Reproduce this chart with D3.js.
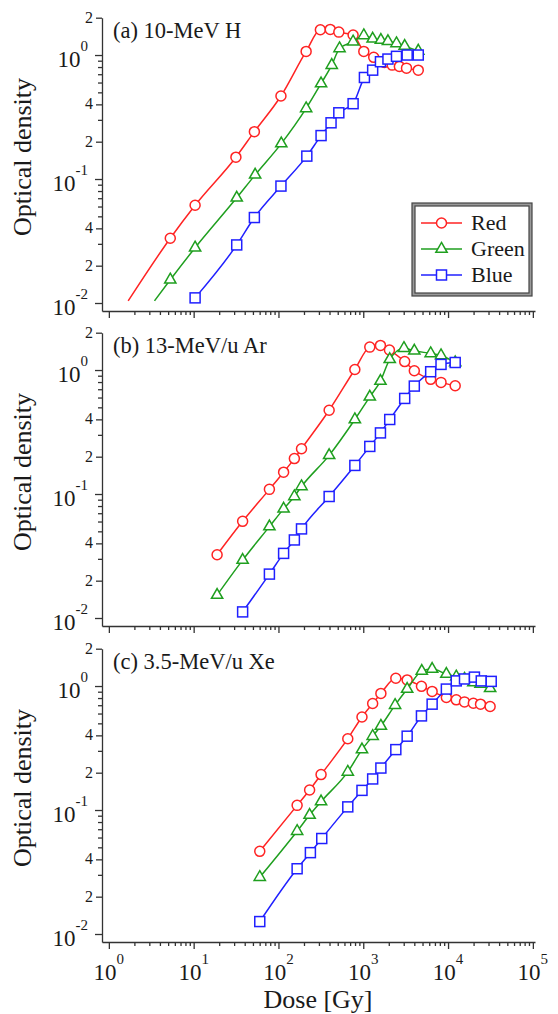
<!DOCTYPE html>
<html>
<head>
<meta charset="utf-8">
<script src="https://cdn.jsdelivr.net/npm/d3@7"></script>
<style>
  body { margin: 0; background: #fff; }
  text { font-family: "Liberation Serif", "Times New Roman", serif; fill: #1a1a1a; }
</style>
</head>
<body>
<div id="chart"></div>
<script>
// ---- data (dose in Gy, optical density) ----
// (a) 10-MeV H
var doseA_R = [5.3, 10.4, 31.5, 52, 107, 212, 312, 408, 515, 759, 1015, 1328, 1775, 2194, 2666, 3236, 4453];
var odA_R   = [0.0333, 0.0615, 0.150, 0.241, 0.467, 1.07, 1.60, 1.61, 1.53, 1.45, 1.07, 0.958, 0.872, 0.829, 0.809, 0.784, 0.755];
var doseA_G = [5.3, 10.4, 32.2, 53.1, 108, 212, 318, 425, 525, 759, 1015, 1291, 1614, 1955, 2465, 3080, 4453];
var odA_G   = [0.0154, 0.0279, 0.0705, 0.108, 0.193, 0.371, 0.589, 0.829, 1.13, 1.28, 1.44, 1.35, 1.32, 1.29, 1.24, 1.18, 1.08];
var doseA_B = [10.4, 32.2, 52, 107, 216, 318, 417, 515, 759, 1032, 1291, 1595, 1955, 2465, 3294, 4453];
var odA_B   = [0.0110, 0.0294, 0.0489, 0.0877, 0.153, 0.224, 0.284, 0.342, 0.405, 0.659, 0.755, 0.883, 0.928, 0.976, 1.0, 1.0];
// line continues below the first marker for red and green in (a)
var lineStartA_R = [1.69, 0.0104];
var lineStartA_G = [3.45, 0.0104];

// (b) 13-MeV/u Ar
var doseB_R = [18.9, 37.8, 78.2, 115, 154, 187, 396, 796, 1194, 1595, 2036, 3080, 4000, 6237, 8260, 12140];
var odB_R   = [0.0324, 0.0602, 0.109, 0.150, 0.193, 0.232, 0.474, 1.01, 1.53, 1.58, 1.45, 1.17, 0.987, 0.841, 0.795, 0.746];
var doseB_G = [18.9, 37.8, 78.2, 115, 154, 187, 396, 796, 1194, 1595, 2052, 3020, 4000, 6237, 8260, 12140];
var odB_G   = [0.0153, 0.0293, 0.0546, 0.0759, 0.0955, 0.115, 0.205, 0.399, 0.608, 0.815, 1.22, 1.50, 1.43, 1.36, 1.31, 1.15];
var doseB_B = [37.8, 78.2, 115, 154, 187, 396, 796, 1194, 1595, 2052, 3080, 4000, 6237, 8260, 12140];
var odB_B   = [0.0112, 0.0226, 0.0332, 0.0426, 0.0523, 0.0955, 0.170, 0.242, 0.311, 0.399, 0.590, 0.742, 0.969, 1.11, 1.15];

// (c) 3.5-MeV/u Xe
var doseC_R = [60.2, 166, 233, 318, 657, 966, 1291, 1614, 2421, 3294, 4856, 6490, 9550, 12500, 15630, 19870, 24150, 31340];
var odC_R   = [0.0464, 0.109, 0.145, 0.193, 0.376, 0.563, 0.723, 0.872, 1.155, 1.12, 0.994, 0.905, 0.809, 0.774, 0.745, 0.727, 0.714, 0.684];
var doseC_G = [60.2, 166, 233, 318, 657, 966, 1291, 1614, 2373, 3294, 4898, 6490, 9550, 12500, 15630, 19870, 24150, 31340];
var odC_G   = [0.0287, 0.0675, 0.0911, 0.117, 0.203, 0.307, 0.394, 0.476, 0.701, 0.945, 1.32, 1.37, 1.25, 1.19, 1.14, 1.07, 1.04, 0.958];
var doseC_B = [60.2, 166, 238, 324, 657, 966, 1291, 1614, 2421, 3294, 4856, 6490, 9550, 12500, 15630, 20460, 24640, 32280];
var odC_B   = [0.0126, 0.0336, 0.0453, 0.0589, 0.106, 0.144, 0.178, 0.218, 0.307, 0.394, 0.574, 0.714, 0.945, 1.10, 1.14, 1.18, 1.10, 1.09];

var panelTitles = ["(a) 10-MeV H", "(b) 13-MeV/u Ar", "(c) 3.5-MeV/u Xe"];
var seriesNames = ["Red", "Green", "Blue"];
var seriesColors = ["#ff2323", "#1f9f1f", "#2020ff"];
var xMajor = [1, 10, 100, 1000, 10000, 100000];
var xExp = ["0", "1", "2", "3", "4", "5"];
var yMajor = [0.01, 0.1, 1];
var yExp = ["-2", "-1", "0"];
var yMid = [0.02, 0.04, 0.2, 0.4, 2];
var yMidLabels = ["2", "4", "2", "4", "2"];

var panels = [
  {title: panelTitles[0], top: 55, series: [[doseA_R, odA_R, lineStartA_R], [doseA_G, odA_G, lineStartA_G], [doseA_B, odA_B, null]]},
  {title: panelTitles[1], top: 370, series: [[doseB_R, odB_R, null], [doseB_G, odB_G, null], [doseB_B, odB_B, null]]},
  {title: panelTitles[2], top: 686, series: [[doseC_R, odC_R, null], [doseC_G, odC_G, null], [doseC_B, odC_B, null]]}
];

var svgWidth = 558, svgHeight = 1014;
var svg = d3.select("#chart").append("svg")
  .attr("width", svgWidth)
  .attr("height", svgHeight);

var xScale = d3.scaleLog().domain([0.83, 1.06e5]).range([102, 535]);

// minor x ticks 2..9 in each decade
var xMinor = [];
for (var e = 0; e < 5; e++) {
  for (var m = 2; m <= 9; m++) xMinor.push(m * Math.pow(10, e));
}
var yMinor = [0.03, 0.05, 0.06, 0.07, 0.08, 0.09, 0.3, 0.5, 0.6, 0.7, 0.8, 0.9];

function drawMarker(g, shape, color, px, py) {
  if (shape === 0) {
    g.append("circle").attr("cx", px).attr("cy", py).attr("r", 5)
      .attr("fill", "#fff").attr("stroke", color).attr("stroke-width", 1.5);
  } else if (shape === 1) {
    g.append("path").attr("d", d3.symbol().type(d3.symbolTriangle).size(55)())
      .attr("transform", "translate(" + px + "," + py + ")")
      .attr("fill", "#fff").attr("stroke", color).attr("stroke-width", 1.5);
  } else {
    g.append("rect").attr("x", px - 5).attr("y", py - 5).attr("width", 10).attr("height", 10)
      .attr("fill", "#fff").attr("stroke", color).attr("stroke-width", 1.5);
  }
}

panels.forEach(function(p, pi) {
  var y0 = p.top;
  var yScale = d3.scaleLog().domain([0.00862, 2]).range([y0 + 256, y0 - 37.3]);
  var g = svg.append("g");
  var xAxisY = y0 + 256;

  // x axis: major + minor ticks
  g.append("g").attr("transform", "translate(0," + xAxisY + ")")
    .call(d3.axisBottom(xScale).tickValues(xMajor).tickSize(7).tickSizeOuter(0).tickFormat(""));
  g.append("g").attr("transform", "translate(0," + xAxisY + ")")
    .call(d3.axisBottom(xScale).tickValues(xMinor).tickSize(4).tickSizeOuter(0).tickFormat(""))
    .select(".domain").remove();

  // y axis
  g.append("g").attr("transform", "translate(102,0)")
    .call(d3.axisLeft(yScale).tickValues(yMajor).tickSize(7).tickSizeOuter(0).tickFormat(""));
  g.append("g").attr("transform", "translate(102,0)")
    .call(d3.axisLeft(yScale).tickValues(yMid).tickSize(6).tickSizeOuter(0).tickFormat(""))
    .select(".domain").remove();
  g.append("g").attr("transform", "translate(102,0)")
    .call(d3.axisLeft(yScale).tickValues(yMinor).tickSize(4).tickSizeOuter(0).tickFormat(""))
    .select(".domain").remove();

  g.selectAll(".domain, .tick line").attr("stroke", "#333").attr("stroke-width", 1.3);

  // y tick labels
  yMajor.forEach(function(v, i) {
    var t = g.append("text").attr("x", 88).attr("y", yScale(v) + 12).attr("text-anchor", "end");
    t.append("tspan").attr("font-size", 23).text("10");
    t.append("tspan").attr("font-size", 15).attr("dy", -16).text(yExp[i]);
  });
  yMid.forEach(function(v, i) {
    g.append("text").attr("x", 93).attr("y", yScale(v) + 5).attr("text-anchor", "end")
      .attr("font-size", 16).text(yMidLabels[i]);
  });

  // y title
  g.append("text")
    .attr("transform", "translate(31," + (y0 + 102) + ") rotate(-90)")
    .attr("text-anchor", "middle")
    .attr("font-size", 26)
    .text("Optical density");

  // panel title
  g.append("text").attr("x", 113).attr("y", y0 - 17).attr("font-size", 22.5).text(p.title);

  // x labels only on the bottom panel
  if (pi === 2) {
    xMajor.forEach(function(v, i) {
      var t = g.append("text").attr("x", xScale(v)).attr("y", xAxisY + 38).attr("text-anchor", "middle");
      t.append("tspan").attr("font-size", 23).text("10");
      t.append("tspan").attr("font-size", 15).attr("dy", -16).text(xExp[i]);
    });
    g.append("text").attr("x", 318).attr("y", xAxisY + 66).attr("text-anchor", "middle")
      .attr("font-size", 26).text("Dose [Gy]");
  }

  // series
  var line = d3.line().x(function(d) { return xScale(d[0]); }).y(function(d) { return yScale(d[1]); })
    .curve(d3.curveMonotoneX);
  p.series.forEach(function(s, si) {
    var pts = s[0].map(function(d, k) { return [d, s[1][k]]; });
    var linePts = s[2] ? [s[2]].concat(pts) : pts;
    g.append("path").datum(linePts)
      .attr("d", line)
      .attr("fill", "none")
      .attr("stroke", seriesColors[si])
      .attr("stroke-width", 1.5);
    var mg = g.append("g");
    pts.forEach(function(d) {
      drawMarker(mg, si, seriesColors[si], xScale(d[0]), yScale(d[1]));
    });
  });

  // legend in panel (a)
  if (pi === 0) {
    var lg = g.append("g");
    lg.append("rect").attr("x", 412).attr("y", 203).attr("width", 120).attr("height", 93)
      .attr("fill", "#9a9a9a").attr("stroke", "#444").attr("stroke-width", 1.2);
    lg.append("rect").attr("x", 415).attr("y", 206).attr("width", 114).attr("height", 87)
      .attr("fill", "#fff").attr("stroke", "#444").attr("stroke-width", 1.2);
    seriesNames.forEach(function(name, si) {
      var ly = 223 + si * 26;
      lg.append("line").attr("x1", 421).attr("x2", 462).attr("y1", ly).attr("y2", ly)
        .attr("stroke", seriesColors[si]).attr("stroke-width", 1.5);
      drawMarker(lg, si, seriesColors[si], 441.5, ly);
      lg.append("text").attr("x", 471).attr("y", ly + 7).attr("font-size", 22).text(name);
    });
  }
});
</script>
</body>
</html>
